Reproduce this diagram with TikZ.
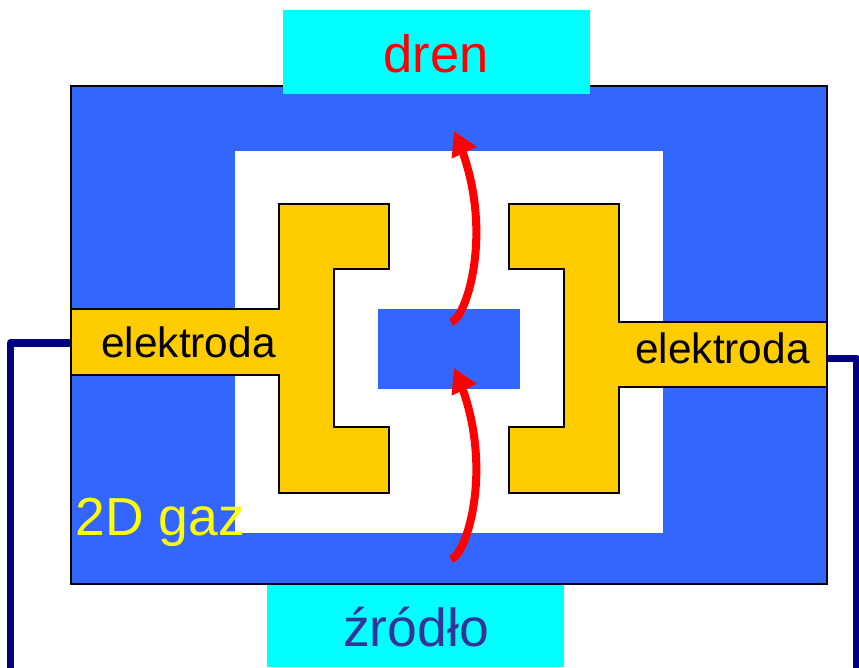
\documentclass[tikz,border=0pt]{standalone}
\usepackage{fontspec}
\setmainfont{Liberation Sans}
\usetikzlibrary{arrows.meta,bending}
\definecolor{gazblue}{HTML}{3366FF}
\definecolor{gold}{HTML}{FFCC00}
\definecolor{wire}{HTML}{000080}
\definecolor{zrodlo}{HTML}{333399}
\definecolor{padcyan}{RGB}{0,255,255}
\definecolor{gazyellow}{RGB}{255,255,0}
\definecolor{drenred}{RGB}{255,0,0}
\tikzset{
  x=1pt,y=-1pt,
  label52/.style={font=\fontsize{52.5}{60}\selectfont,inner sep=0pt,anchor=base},
  label53/.style={font=\fontsize{53.5}{60}\selectfont,inner sep=0pt,anchor=base},
  label42/.style={font=\fontsize{42.4}{50}\selectfont,inner sep=0pt,anchor=base,text=black},
  outline/.style={draw=black,line width=2pt,line join=miter},
  contact/.style={fill=padcyan,draw=none},
  wirepath/.style={draw=wire,line width=7.5pt,line join=round},
  current/.style={draw=drenred,line width=8pt,-{Triangle[length=24pt,width=26pt,flex=0]}}
}
\begin{document}
\begin{tikzpicture}
\useasboundingbox (0,0) rectangle (859,667);
\fill[white] (0,0) rectangle (859,667);
% wires
\coordinate (wl) at (71,343);
\coordinate (wlc) at (10.5,343);
\coordinate (wlb) at (10.5,670);
\coordinate (wr) at (827,358.5);
\coordinate (wrc) at (856.5,358.5);
\coordinate (wrb) at (856.5,670);
\draw[wirepath] (wl) -- (wlc) -- (wlb);
\draw[wirepath] (wr) -- (wrc) -- (wrb);
% substrate
\draw[outline,fill=gazblue] (71,86) rectangle (827,584);
\fill[white] (235,151) rectangle (663,533);
\fill[gazblue] (378,309) rectangle (520,389);
% electrodes
\draw[outline,fill=gold,line width=1.7pt] (71,309) -- (279,309) -- (279,204) -- (389,204) -- (389,269) -- (334,269) -- (334,427) -- (389,427) -- (389,493) -- (279,493) -- (279,375) -- (71,375) -- cycle;
\draw[outline,fill=gold,line width=1.7pt] (827,322) -- (619,322) -- (619,204) -- (509,204) -- (509,269) -- (564,269) -- (564,427) -- (509,427) -- (509,493) -- (619,493) -- (619,387) -- (827,387) -- cycle;
% contacts
\fill[contact] (283,10) rectangle (590,94);
\fill[contact] (267,585) rectangle (564,667);
% labels
\node[label52,text=drenred] (dren) at (436,72) {dren};
\node[label53,text=zrodlo] (zrodlo) at (416,646) {źródło};
\node[label53,text=gazyellow] (gaz) at (160.5,535) {2D gaz};
\node[label42] (el) at (188.5,357) {elektroda};
\node[label42] (er) at (722.5,363) {elektroda};
% currents
\coordinate (a1) at (451,322);
\coordinate (b1) at (454,131);
\coordinate (a2) at (451,559);
\coordinate (b2) at (454,368);
\draw[current] (a1) .. controls (466,320) and (498,225) .. (b1);
\draw[current] (a2) .. controls (466,557) and (498,462) .. (b2);
\end{tikzpicture}
\end{document}
